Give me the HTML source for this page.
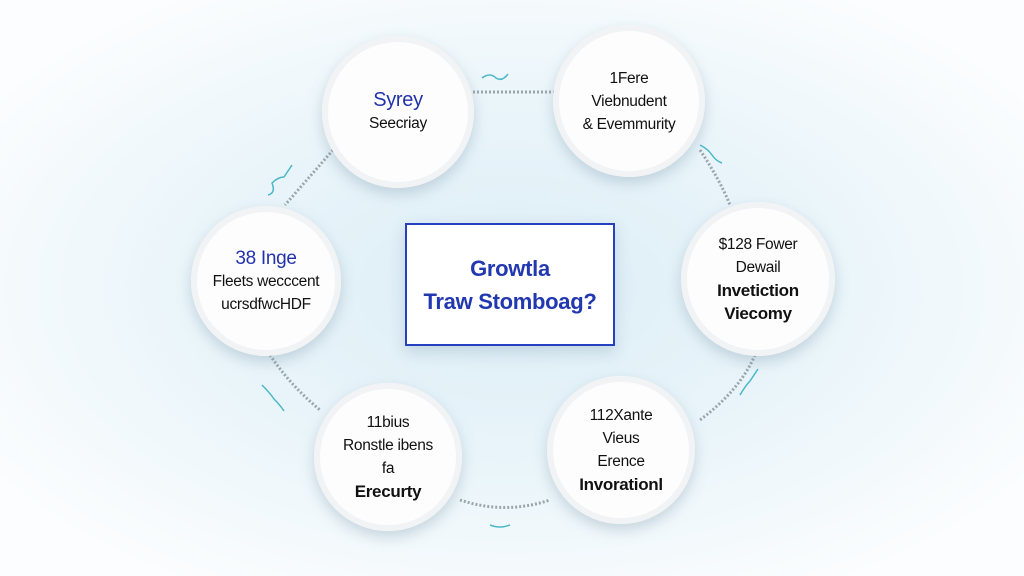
<!DOCTYPE html>
<html><head><style>
body{margin:0;width:1024px;height:576px;overflow:hidden;background:radial-gradient(ellipse at 50% 50%,#dcedf6 0%,#eaf5fa 45%,#fbfdfe 85%);font-family:"Liberation Sans",sans-serif;position:relative}
.c{position:absolute;border-radius:50%;background:#fdfdfe;box-shadow:0 6px 14px rgba(120,150,170,.35),inset 0 0 0 6px #f1f3f5;display:flex;flex-direction:column;align-items:center;justify-content:center;text-align:center;color:#111;font-size:15.5px;line-height:23px;letter-spacing:-0.3px}
.b{color:#2233aa;font-size:20px}
.box{position:absolute;left:405px;top:223px;width:206px;height:119px;border:2.5px solid #2540c0;background:#fff;box-shadow:0 6px 14px rgba(120,150,170,.3);display:flex;flex-direction:column;align-items:center;justify-content:center;color:#2238b0;font-weight:bold;font-size:22px;line-height:33px;letter-spacing:-0.3px}
svg{position:absolute;left:0;top:0}
</style></head><body>
<svg width="1024" height="576">
<g fill="none" stroke="#9aa6ad" stroke-width="3" stroke-dasharray="2 2">
<path d="M473 92 L556 92"/>
<path d="M333 150 L285 205"/>
<path d="M700 150 Q720 180 730 205"/>
<path d="M270 355 Q290 385 320 410"/>
<path d="M755 355 Q740 390 700 420"/>
<path d="M460 500 Q505 515 550 500"/>
</g>
<g fill="none" stroke="#4ab8c8" stroke-width="1.5">
<path d="M482 78 q8 -6 14 0 q6 4 12 -4"/>
<path d="M268 195 q8 -2 4 -12 q6 -6 12 -6 q4 -6 8 -12"/>
<path d="M700 145 q8 4 12 10 q4 6 10 8"/>
<path d="M262 385 q8 8 12 14 q6 6 10 12"/>
<path d="M740 395 q6 -10 10 -14 q4 -6 8 -12"/>
<path d="M490 525 q10 4 20 0"/>
</g>
</svg>
<div class="c" style="left:322px;top:36px;width:152px;height:152px"><div class="b">Syrey</div><div>Seecriay</div></div>
<div class="c" style="left:553px;top:25px;width:152px;height:152px"><div>1Fere</div><div>Viebnudent</div><div>&amp; Evemmurity</div></div>
<div class="c" style="left:191px;top:206px;width:150px;height:150px"><div class="b" style="font-size:19px">38 Inge</div><div>Fleets wecccent</div><div>ucrsdfwcHDF</div></div>
<div class="c" style="left:681px;top:202px;width:154px;height:154px"><div>$128 Fower</div><div>Dewail</div><div style="font-weight:bold;font-size:17px">Invetiction</div><div style="font-weight:bold;font-size:17px">Viecomy</div></div>
<div class="c" style="left:314px;top:383px;width:148px;height:148px"><div>11bius</div><div>Ronstle ibens</div><div>fa</div><div style="font-weight:bold;font-size:17px">Erecurty</div></div>
<div class="c" style="left:547px;top:376px;width:148px;height:148px"><div>112Xante</div><div>Vieus</div><div>Erence</div><div style="font-weight:bold;font-size:17px">Invorationl</div></div>
<div class="box"><div>Growtla</div><div>Traw Stomboag?</div></div>
</body></html>
